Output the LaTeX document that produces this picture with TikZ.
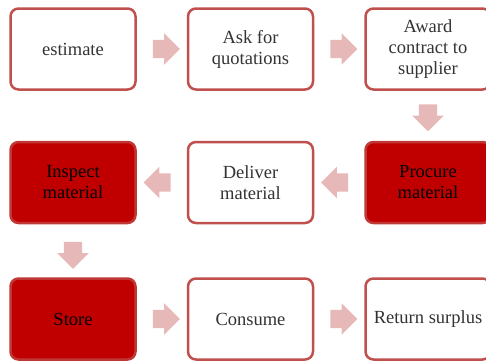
\documentclass[tikz,border=0pt]{standalone}
\usepackage{fontspec}
\setmainfont{Liberation Serif}
\usetikzlibrary{positioning,shapes.arrows,calc}
\definecolor{boxRed}{HTML}{C0504D}
\definecolor{fillRed}{HTML}{C00000}
\definecolor{arrowPink}{HTML}{E6B9B8}
\tikzset{
  stepbox/.style={draw=boxRed, line width=2.5pt, rounded corners=8pt, fill=white,
    minimum width=125pt, minimum height=81pt, align=center,
    font=\fontsize{18.5}{21}\selectfont, text=black!80},
  keybox/.style={stepbox, fill=fillRed, draw=boxRed!70!fillRed, text=black},
  flowarr/.style={single arrow, fill=arrowPink, draw=none, inner xsep=0pt,
    inner ysep=9pt, minimum height=27pt, single arrow head extend=6.5pt}
}

\begin{document}
\begin{tikzpicture}[x=1pt,y=1pt, node distance=50pt and 50pt]
  \clip (0,0) rectangle (486,-362);

  % first row
  \node[stepbox] (est) at (73,-49) {estimate};
  \node[stepbox, right=of est] (ask) {Ask for\\quotations};
  \node[stepbox, right=of ask] (award) {Award\\contract to\\supplier};

  % second row
  \node[keybox, below=of award] (proc) {Procure\\material};
  \node[stepbox, left=of proc] (deliv) {Deliver\\material};
  \node[keybox, left=of deliv] (insp) {Inspect\\material};

  % third row
  \node[keybox, below=53pt of insp] (store) {Store};
  \node[stepbox, right=of store] (cons) {Consume};
  \node[stepbox, right=of cons] (ret) {Return surplus};

  % block arrows
  \node[flowarr] (a1) at ($(est.east)!0.5!(ask.west)$) {};
  \node[flowarr] (a2) at ($(ask.east)!0.5!(award.west)$) {};
  \node[flowarr, rotate=-90] (a3) at ($(award.south)!0.45!(proc.north)$) {};
  \node[flowarr, rotate=180] (a4) at ($(proc.west)!0.5!(deliv.east)$) {};
  \node[flowarr, rotate=180] (a5) at ($(deliv.west)!0.5!(insp.east)$) {};
  \node[flowarr, rotate=-90] (a6) at ($(insp.south)!0.5!(store.north)$) {};
  \node[flowarr] (a7) at ($(store.east)!0.5!(cons.west)$) {};
  \node[flowarr] (a8) at ($(cons.east)!0.5!(ret.west)$) {};
\end{tikzpicture}
\end{document}
